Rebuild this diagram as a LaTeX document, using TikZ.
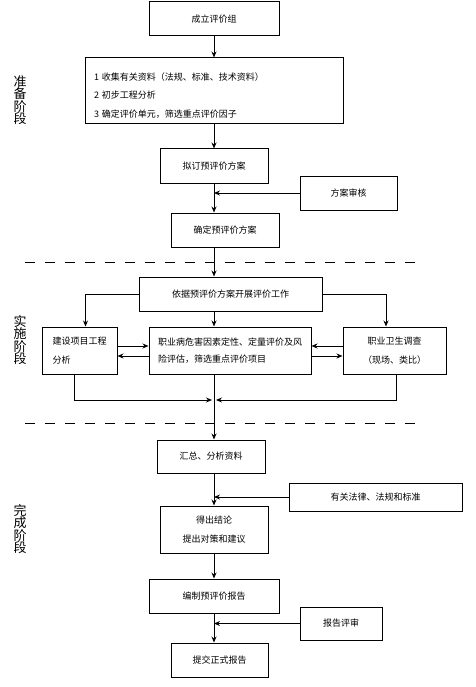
\documentclass[tikz,border=0pt]{standalone}
\usepackage{fontspec}
\setmainfont{Noto Sans CJK SC}
\usetikzlibrary{arrows.meta}
\tikzstyle{block} = [rectangle, draw=black, line width=1pt, inner sep=0pt, align=center, font=\fontsize{9}{18.5}\selectfont]
\tikzstyle{arrow} = [line width=0.9pt,->,>={Stealth[length=6pt,width=5pt]}]
\tikzstyle{phase} = [align=center, font=\fontsize{13}{12.5}\selectfont]
\tikzstyle{divider} = [line width=0.9pt, dash pattern=on 10pt off 10pt]

\begin{document}
\begin{tikzpicture}[x=1pt, y=-1pt]
\useasboundingbox (0,0) rectangle (475,687);
\coordinate (spine) at (214, 0);

% preparation
\node at (214, 19) (team) [block, minimum width=130pt, minimum height=34pt] {成立评价组};
\node at (214, 91) (collect) [block, minimum width=258pt, minimum height=66pt, text width=240pt, align=left] {\rule{0pt}{16pt}1 收集有关资料（法规、标准、技术资料）\\2 初步工程分析\\3 确定评价单元，筛选重点评价因子};
\node at (214, 166) (draft) [block, minimum width=108pt, minimum height=34pt] {拟订预评价方案};
\node at (348.5, 193) (review) [block, minimum width=97pt, minimum height=34pt] {方案审核};
\node at (225, 230) (confirm) [block, minimum width=108pt, minimum height=34pt] {确定预评价方案};

\draw[arrow] (spine |- team.south) -- (spine |- collect.north);
\draw[arrow] (spine |- collect.south) -- (spine |- draft.north);
\draw[arrow] (spine |- draft.south) -- (spine |- confirm.north);
\draw[arrow] (review.west) -- (spine |- review.west);

\draw[divider] (25, 262) -- (418, 262);

% implementation
\node at (230.5, 294) (work) [block, minimum width=183pt, minimum height=34pt] {依据预评价方案开展评价工作};
\node at (79.5, 350.5) (build) [block, minimum width=75pt, minimum height=47pt, align=left] {建设项目工程\\分析};
\node at (230, 350.5) (eval) [block, minimum width=162pt, minimum height=47pt, align=left, font=\fontsize{9}{17.5}\selectfont] {职业病危害因素定性、定量评价及风\\险评估，筛选重点评价项目};
\node at (394.5, 350.5) (survey) [block, minimum width=103pt, minimum height=47pt] {职业卫生调查\\（现场、类比）};
\coordinate (merge) at (214, 400);

\draw[arrow] (spine |- confirm.south) -- (spine |- work.north);
\draw[arrow] (work.west) -| ([xshift=6pt]build.north);
\draw[arrow] (work.east) -| ([xshift=-8.5pt]survey.north);
\draw[arrow] (spine |- work.south) -- (spine |- eval.north);
\draw[arrow] ([yshift=4.5pt]build.east) -- ([yshift=4.5pt]eval.west);
\draw[arrow] ([yshift=-5.5pt]eval.west) -- ([yshift=-5.5pt]build.east);
\draw[arrow] ([yshift=4.5pt]survey.west) -- ([yshift=4.5pt]eval.east);
\draw[arrow] ([yshift=-5.5pt]eval.east) -- ([yshift=-5.5pt]survey.west);
\draw[arrow, shorten >=2pt] ([xshift=-5.5pt]build.south) |- (merge);
\draw[arrow, shorten >=2pt] ([xshift=2pt]survey.south) |- (merge);

\draw[divider] (25, 423) -- (425, 423);

% completion
\node at (211, 456.5) (summary) [block, minimum width=108pt, minimum height=33pt] {汇总、分析资料};
\node at (375.5, 497) (laws) [block, minimum width=173pt, minimum height=28pt] {有关法律、法规和标准};
\node at (214, 529.5) (result) [block, minimum width=108pt, minimum height=47pt] {得出结论\\提出对策和建议};
\node at (214, 596) (report) [block, minimum width=130pt, minimum height=34pt] {编制预评价报告};
\node at (341, 623.5) (audit) [block, minimum width=82pt, minimum height=33pt] {报告评审};
\node at (219.5, 660) (final) [block, minimum width=97pt, minimum height=34pt] {提交正式报告};

\draw[arrow] (spine |- eval.south) -- (spine |- summary.north);
\draw[arrow] (spine |- summary.south) -- (spine |- result.north);
\draw[arrow] (laws.west) -- (spine |- laws.west);
\draw[arrow] (spine |- result.south) -- (spine |- report.north);
\draw[arrow] (spine |- report.south) -- (spine |- final.north);
\draw[arrow] (audit.west) -- (spine |- audit.west);

% phase labels
\node at (20, 100) (prep) [phase] {准\\备\\阶\\段};
\node at (20, 340) (impl) [phase] {实\\施\\阶\\段};
\node at (20, 529) (done) [phase] {完\\成\\阶\\段};

\end{tikzpicture}
\end{document}
